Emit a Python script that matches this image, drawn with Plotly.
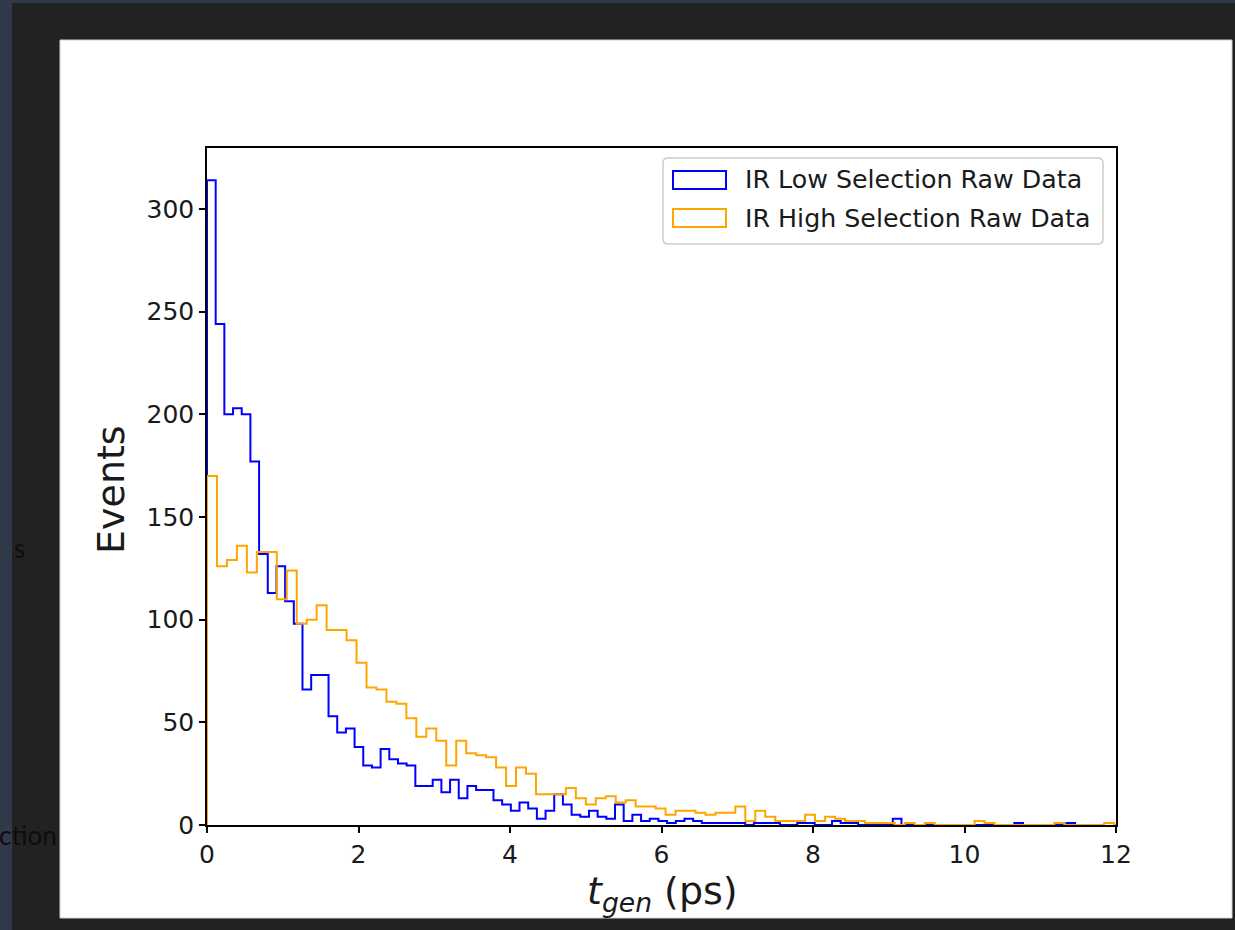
import numpy as np
import plotly.graph_objects as go

# ---------------- data ----------------
# IR Low selection: 100 bins spanning 0 .. 11.46 ps
LOW_RANGE = (0.0, 11.46)
LOW_COUNTS = [
    314, 244, 200, 203, 200, 177, 132, 113, 126, 109,
    98, 66, 73, 73, 53, 45, 47, 38, 29, 28,
    37, 32, 30, 29, 19, 19, 22, 16, 22, 13,
    19, 17, 17, 12, 10, 7, 11, 8, 3, 7,
    15, 10, 5, 4, 7, 4, 3, 10, 2, 5,
    2, 3, 2, 1, 2, 3, 2, 1, 1, 1,
    1, 1, 0, 1, 1, 1, 0, 0, 1, 1,
    0, 0, 2, 1, 1, 0, 0, 0, 0, 3,
    0, 0, 0, 0, 0, 0, 0, 0, 0, 0,
    0, 0, 0, 1, 0, 0, 0, 0, 0, 1,
]
# IR High selection: bins of width 0.1316 ps (visible part up to 12 ps)
HIGH_BIN_WIDTH = 0.1316
HIGH_COUNTS = [
    170, 126, 129, 136, 123, 133, 133, 110, 124, 98,
    100, 107, 95, 95, 90, 79, 67, 66, 60, 59,
    52, 43, 47, 41, 29, 41, 35, 34, 33, 28,
    19, 28, 25, 15, 15, 15, 18, 13, 10, 13,
    14, 11, 12, 9, 9, 8, 5, 7, 7, 6,
    5, 6, 6, 9, 2, 7, 4, 2, 2, 2,
    5, 2, 4, 3, 2, 2, 1, 1, 1, 0,
    1, 0, 1, 0, 0, 0, 0, 2, 1, 0,
    0, 0, 0, 0, 0, 1, 0, 0, 0, 0,
    1, 0,
]
SERIES_NAMES = ["IR Low Selection Raw Data", "IR High Selection Raw Data"]
SERIES_COLORS = ["blue", "orange"]
X_TICKS = [0, 2, 4, 6, 8, 10, 12]
Y_TICKS = [0, 50, 100, 150, 200, 250, 300]

# ---------------- geometry helpers ----------------
W, H = 1235, 930
L, R, T, B = 207, 1116, 148, 825


def px(x):
    return (x - L) / (R - L)


def py(y):
    return (B - y) / (B - T)


def step_xy(edges, counts):
    xs = [edges[0]] + list(edges)
    ys = [0] + list(counts) + [0]
    return xs, ys


low_edges = np.linspace(LOW_RANGE[0], LOW_RANGE[1], len(LOW_COUNTS) + 1)
high_edges = np.arange(len(HIGH_COUNTS) + 1) * HIGH_BIN_WIDTH

fig = go.Figure()
for edges, counts, name, color in [
    (low_edges, LOW_COUNTS, SERIES_NAMES[0], SERIES_COLORS[0]),
    (high_edges, HIGH_COUNTS, SERIES_NAMES[1], SERIES_COLORS[1]),
]:
    xs, ys = step_xy(edges, counts)
    fig.add_trace(go.Scatter(
        x=xs, y=ys, mode="lines", name=name,
        line=dict(color=color, width=2, shape="hv"),
        showlegend=False, hoverinfo="skip",
    ))

FONT = "DejaVu Sans"
shapes = []
# dark screenshot surroundings
shapes.append(dict(type="rect", xref="paper", yref="paper", layer="below",
                   x0=px(0), x1=px(12), y0=py(0), y1=py(930),
                   fillcolor="#2f394a", line_width=0))
shapes.append(dict(type="rect", xref="paper", yref="paper", layer="below",
                   x0=px(0), x1=px(1235), y0=py(0), y1=py(3),
                   fillcolor="#2f394a", line_width=0))
shapes.append(dict(type="rect", xref="paper", yref="paper", layer="below",
                   x0=px(60), x1=px(1232), y0=py(40), y1=py(918),
                   fillcolor="white", line=dict(color="#d0d0d0", width=1)))

# legend frame (rounded)
lx0, lx1, ly0, ly1, r = 663, 1103, 158, 244, 5
path = (f"M {px(lx0 + r)},{py(ly0)} L {px(lx1 - r)},{py(ly0)} "
        f"Q {px(lx1)},{py(ly0)} {px(lx1)},{py(ly0 + r)} "
        f"L {px(lx1)},{py(ly1 - r)} Q {px(lx1)},{py(ly1)} {px(lx1 - r)},{py(ly1)} "
        f"L {px(lx0 + r)},{py(ly1)} Q {px(lx0)},{py(ly1)} {px(lx0)},{py(ly1 - r)} "
        f"L {px(lx0)},{py(ly0 + r)} Q {px(lx0)},{py(ly0)} {px(lx0 + r)},{py(ly0)} Z")
shapes.append(dict(type="path", xref="paper", yref="paper", path=path,
                   fillcolor="rgba(255,255,255,0.8)",
                   line=dict(color="#cccccc", width=1.5)))

annotations = []
for i, (name, color) in enumerate(zip(SERIES_NAMES, SERIES_COLORS)):
    cy = 180 + 38 * i
    shapes.append(dict(type="rect", xref="paper", yref="paper",
                       x0=px(673), x1=px(726), y0=py(cy - 9), y1=py(cy + 9),
                       line=dict(color=color, width=2), fillcolor="rgba(0,0,0,0)"))
    annotations.append(dict(xref="paper", yref="paper", x=px(743), y=py(cy),
                            xanchor="left", yanchor="middle", showarrow=False,
                            text=name, font=dict(family=FONT, size=25.3, color="#1a1a1a")))

# axis titles
annotations.append(dict(xref="paper", yref="paper", x=px(111), y=py(490),
                        xanchor="center", yanchor="middle", showarrow=False,
                        textangle=-90, text="Events",
                        font=dict(family=FONT, size=38, color="#1a1a1a")))
annotations.append(dict(xref="paper", yref="paper", x=px(662), y=py(893),
                        xanchor="center", yanchor="middle", showarrow=False,
                        text="<i>t</i><sub><i>gen</i></sub> (ps)",
                        font=dict(family=FONT, size=38, color="#1a1a1a")))
# screenshot text fragments at left edge
annotations.append(dict(xref="paper", yref="paper", x=px(12), y=py(548),
                        xanchor="left", yanchor="middle", showarrow=False,
                        text="s", font=dict(family="Lato", size=26, color="#0d0d0d")))
annotations.append(dict(xref="paper", yref="paper", x=px(59), y=py(835),
                        xanchor="right", yanchor="middle", showarrow=False,
                        text="ction", font=dict(family="Lato", size=26, color="#0d0d0d")))

axis_common = dict(
    showline=True, linecolor="black", linewidth=1.5, mirror=True,
    ticks="outside", ticklen=6, tickwidth=1.5, tickcolor="black",
    showgrid=False, zeroline=False,
    tickfont=dict(family=FONT, size=25, color="#1a1a1a"),
)

fig.update_layout(
    width=W, height=H, autosize=False,
    margin=dict(l=L, r=W - R, t=T, b=H - B, pad=0),
    paper_bgcolor="#222222", plot_bgcolor="white",
    xaxis=dict(range=[0, 12], tickvals=X_TICKS, **axis_common),
    yaxis=dict(range=[0, 329.7], tickvals=Y_TICKS, **axis_common),
    shapes=shapes, annotations=annotations,
    showlegend=False,
)

fig.write_html("out.html")
